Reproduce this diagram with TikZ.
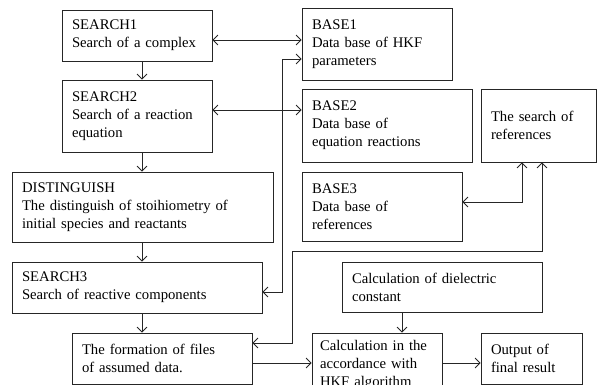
\documentclass[tikz,border=0pt]{standalone}
\usepackage{fontspec}
\setmainfont{Liberation Serif}
\usetikzlibrary{arrows.meta, positioning}

\begin{document}
\begin{tikzpicture}
  [
    x=1pt, y=-1pt,
    >={Straight Barb[length=5pt, width=10pt]},
    Box/.style 2 args={rectangle, draw=black!85, line width=0.8pt, align=left, inner xsep=10pt, inner ysep=2pt, text width=#1, minimum height=#2, font=\fontsize{14.7}{18}\selectfont},
    Link/.style={draw=black!85, line width=0.8pt}
  ]
  \useasboundingbox (0,0) rectangle (598,385);

  % Nodes
  \node[Box={130pt}{51pt}] (search1) at (137,35.5) {SEARCH1\\Search of a complex};
  \node[Box={130pt}{72pt}] (search2) at (137,116) {SEARCH2\\Search of a reaction\\equation};
  \node[Box={241pt}{70pt}] (dist) at (142.5,207) {DISTINGUISH\\The distinguish of stoihiometry of\\initial species and reactants};
  \node[Box={230pt}{51pt}] (search3) at (137,287.5) {SEARCH3\\Search of reactive components};
  \node[Box={160pt}{51pt}] (files) at (162,358.5) {The formation of files\\of assumed data.};

  \node[Box={130pt}{72pt}] (base1) at (377,44) {BASE1\\Data base of HKF\\parameters};
  \node[Box={150pt}{73pt}] (base2) at (387,125.5) {BASE2\\Data base of\\equation reactions};
  \node[Box={95pt}{73pt}] (refs) at (538.5,125.5) {The search of\\references};
  \node[Box={140pt}{69pt}] (base3) at (382,206.5) {BASE3\\Data base of\\references};

  \node[Box={180pt}{50pt}] (diel) at (442,287) {Calculation of dielectric\\constant};
  \node[Box={114pt}{64pt}, inner xsep=8pt] (hkf) at (377,365) {Calculation in the\\accordance with\\HKF algorithm};
  \node[Box={81pt}{51pt}] (result) at (531.5,358.5) {Output of\\final result};

  % Bends
  \coordinate (spine) at (142,0);
  \coordinate (busA) at (282,59);
  \coordinate (busB) at (292,251);
  \coordinate (refsL) at ([xshift=-16.5pt]refs.south);
  \coordinate (refsR) at ([xshift=3.5pt]refs.south);

  % Lines
  \path [->, Link] (search1.south -| spine) -- (search2.north -| spine);
  \path [->, Link] (search2.south -| spine) -- (dist.north -| spine);
  \path [->, Link] (dist.south -| spine) -- (search3.north -| spine);
  \path [->, Link] (search3.south -| spine) -- (files.north -| spine);

  \path [<->, Link] ([yshift=-4.5pt]search1.east) -- ([yshift=-4.5pt]search1.east -| base1.west);
  \path [<->, Link] ([yshift=6pt]search2.east) -- ([yshift=6pt]search2.east -| base2.west);
  \path [<->, Link] ([yshift=-4.5pt]search3.east) -| (busA) -- (busA -| base1.west);

  \path [<->, Link] ([yshift=15.5pt]files.east) -| (busB) -| (refsR);
  \path [<->, Link] ([yshift=4.5pt]base3.east) -| (refsL);

  \path [->, Link] ([xshift=-40pt]diel.south) -- ([xshift=-40pt]diel.south |- hkf.north);
  \path [->, Link] ([yshift=-4.5pt]files.east) -- ([yshift=-4.5pt]files.east -| hkf.west);
  \path [->, Link] ([yshift=2pt]hkf.east) -- ([yshift=2pt]hkf.east -| result.west);

\end{tikzpicture}
\end{document}
